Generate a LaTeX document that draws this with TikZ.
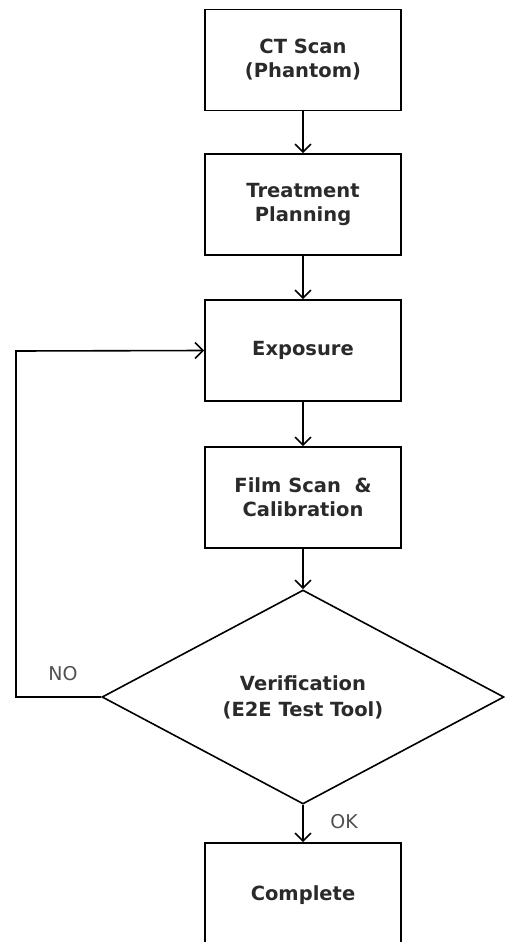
\documentclass[tikz,border=0pt]{standalone}
\usepackage{fontspec}
\setmainfont{DejaVu Sans}
\usetikzlibrary{shapes.geometric,arrows.meta}
\definecolor{txt}{HTML}{2A2A2A}
\definecolor{lbl}{HTML}{505050}
\begin{document}
\begin{tikzpicture}[x=1pt,y=-1pt,
  line width=1.6pt,
  stepbox/.style={draw=black,rectangle,minimum width=196pt,minimum height=101pt,inner sep=0pt,
    align=center,text=txt,font=\fontsize{19.5}{24}\selectfont\bfseries},
  decision/.style={draw=black,diamond,minimum width=402pt,minimum height=214pt,inner sep=0pt,
    align=center,text=txt,font=\fontsize{19.5}{26}\selectfont\bfseries},
  flow/.style={-{Straight Barb[length=8pt,width=16pt,line width=1.6pt]}},
  tag/.style={text=lbl,font=\fontsize{19}{20}\selectfont}]
\useasboundingbox (0,0) rectangle (505,942);
\node[stepbox] (ct) at (303,60) {CT Scan\\(Phantom)};
\node[stepbox] (tp) at (303,204.5) {Treatment\\Planning};
\node[stepbox] (ex) at (303,350.5) {Exposure};
\node[stepbox] (fs) at (303,497.5) {Film Scan\ \ \&\\Calibration};
\node[decision] (ver) at (303,697) {Verification\\(E2E Test Tool)};
\node[stepbox,minimum height=104pt] (done) at (303,895) {Complete};
\coordinate (bl) at (16,697);
\coordinate (tl) at (16,351);
\draw[flow] (ct) -- (tp);
\draw[flow] (tp) -- (ex);
\draw[flow] (ex) -- (fs);
\draw[flow] (fs.south) -- (ver.north);
\draw[flow] (ver.south) -- (done.north);
\draw[flow] (ver.west) -- (bl) -- (tl) -- (ex.west);
\node[tag] (no) at (63,674) {NO};
\node[tag] (ok) at (344,822) {OK};
\end{tikzpicture}
\end{document}
